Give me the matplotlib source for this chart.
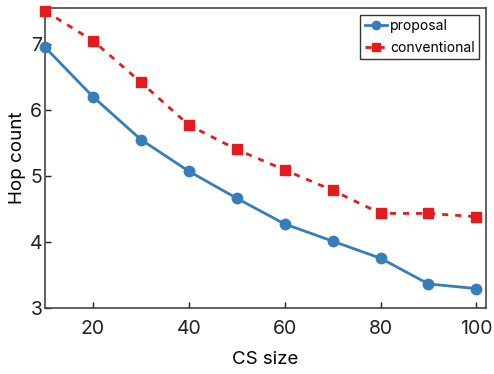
import matplotlib
matplotlib.use("Agg")
import matplotlib.pyplot as plt

plt.rcParams['font.family'] = ['Inter', 'DejaVu Sans']

cs_size = [10, 20, 30, 40, 50, 60, 70, 80, 90, 100]
proposal = [6.95, 6.20, 5.55, 5.07, 4.66, 4.27, 4.01, 3.75, 3.36, 3.29]
conventional = [7.50, 7.05, 6.42, 5.77, 5.40, 5.09, 4.78, 4.43, 4.43, 4.38]
xticks = [20, 40, 60, 80, 100]
yticks = [3, 4, 5, 6, 7]

fig = plt.figure(figsize=(4.94, 3.74), dpi=100)
ax = fig.add_axes([45/494, 1-307.7/374, (486-45)/494, (307.7-7.7)/374])

ax.plot(cs_size, proposal, '-o', color='#377eb8', lw=2.0, ms=7.5, label='proposal', clip_on=False, zorder=3)
ax.plot(cs_size, conventional, '--s', color='#e41a1c', lw=2.0, ms=7, label='conventional', clip_on=False, zorder=3,
        dashes=(2.2, 2.5))

ax.set_xlim(10, 102)
ax.set_ylim(3, 7.55)
ax.set_xticks(xticks)
ax.set_yticks(yticks)
ax.tick_params(direction='in', length=4, width=1, labelsize=14, top=False, right=False, colors='#222222')
ax.tick_params(axis='x', pad=9)
ax.tick_params(axis='y', pad=2)
for s in ax.spines.values():
    s.set_color('#444444')
    s.set_linewidth(1.2)

ax.set_xlabel('CS size', fontsize=13.5, labelpad=9)
ax.set_ylabel('Hop count', fontsize=13.5, labelpad=3)

leg = ax.legend(loc='upper right', fontsize=10, frameon=True, fancybox=False, edgecolor='black',
                handlelength=1.6, handletextpad=0.25, borderpad=0.3, labelspacing=0.6,
                borderaxespad=0.5, markerscale=0.8)
leg.get_frame().set_linewidth(1.0)

fig.savefig('out.png', dpi=100)
